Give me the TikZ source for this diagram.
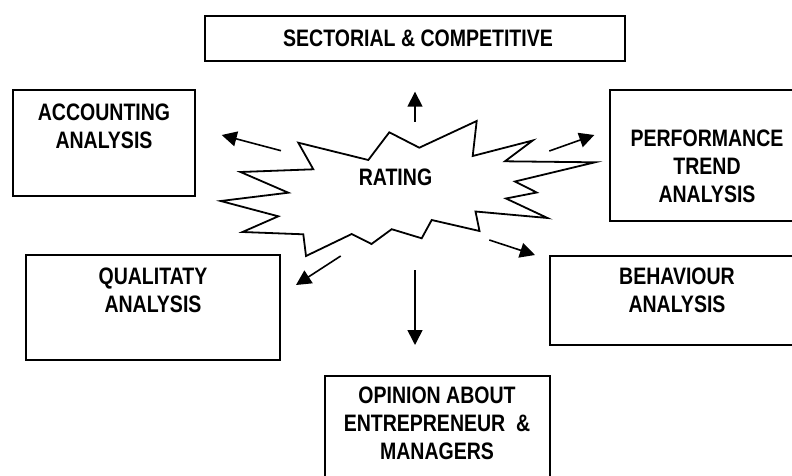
\documentclass[tikz,border=0pt]{standalone}
\usepackage{fontspec}
\newfontfamily\narrowsans{Liberation Sans}[FakeStretch=0.82]
\usetikzlibrary{arrows.meta}

\begin{document}
\begin{tikzpicture}[x=1pt, y=-1pt,
      analysisbox/.style={rectangle, draw=black, line width=2pt},
      boxtext/.style={align=center, inner sep=0pt,
        font=\narrowsans\bfseries\fontsize{23.8}{28}\selectfont},
      burst/.style={draw=black, line width=1.8pt, line join=miter},
      ratingarrow/.style={line width=1.6pt, -{Triangle[length=15pt,width=15pt]}}]

    \clip (0,0) rectangle (792,476);

    % boxes
    \node[analysisbox, minimum width=420pt, minimum height=45pt] (sect) at (415,38.5) {};
    \node[analysisbox, minimum width=182pt, minimum height=106pt] (acc) at (104,143) {};
    \node[analysisbox, minimum width=194pt, minimum height=131pt] (perf) at (707,155.5) {};
    \node[analysisbox, minimum width=254pt, minimum height=105pt] (qual) at (153,307.5) {};
    \node[analysisbox, minimum width=254pt, minimum height=89pt] (behav) at (677,300.5) {};
    \node[analysisbox, minimum width=225pt, minimum height=130pt] (opin) at (437.5,441) {};

    \node[boxtext] (sectText) at (418,38) {SECTORIAL \& COMPETITIVE};
    \node[boxtext] (accText) at (104,126) {ACCOUNTING\\ANALYSIS};
    \node[boxtext] (perfText) at (707,166.5) {PERFORMANCE\\TREND\\ANALYSIS};
    \node[boxtext] (qualText) at (153,290) {QUALITATY\\ANALYSIS};
    \node[boxtext] (behavText) at (677,290) {BEHAVIOUR\\ANALYSIS};
    \node[boxtext] (opinText) at (437,423.5) {OPINION ABOUT\\ENTREPRENEUR\ \ \&\\MANAGERS};

    % the rating burst
    \draw[burst] (298.3,142.7) -- (368.3,160) -- (389.3,132.3) -- (419.3,147.7)
      -- (476.7,121) -- (472.7,156) -- (532.7,140.5) -- (505,161.3)
      -- (595,162.3) -- (515,181.5) -- (536.7,192.5) -- (506,198.5)
      -- (547.5,218) -- (475.5,211.5) -- (479.5,231) -- (431.7,220)
      -- (421.7,238.3) -- (391.7,229.2) -- (371.5,244) -- (351.7,234)
      -- (306,256) -- (303.3,234.3) -- (242.5,232) -- (278.3,216.3)
      -- (220.7,201) -- (288.3,192.7) -- (240.5,172) -- (313.3,169.3) -- cycle;
    \node[boxtext] (rating) at (395.5,177.5) {RATING};

    \coordinate (sTail) at (415,121.7);
    \coordinate (sHead) at (415,91.7);
    \coordinate (aTail) at (281,150.7);
    \coordinate (aHead) at (221.7,135);
    \coordinate (pTail) at (549.3,151);
    \coordinate (pHead) at (594.3,135);
    \coordinate (qTail) at (340.7,256);
    \coordinate (qHead) at (296,285);
    \coordinate (bTail) at (489.3,240);
    \coordinate (bHead) at (535,255);
    \coordinate (oTail) at (415,270);
    \coordinate (oHead) at (415,345);

    \draw[ratingarrow] (sTail) -- (sHead);
    \draw[ratingarrow] (aTail) -- (aHead);
    \draw[ratingarrow] (pTail) -- (pHead);
    \draw[ratingarrow] (qTail) -- (qHead);
    \draw[ratingarrow] (bTail) -- (bHead);
    \draw[ratingarrow] (oTail) -- (oHead);

  \end{tikzpicture}
\end{document}
